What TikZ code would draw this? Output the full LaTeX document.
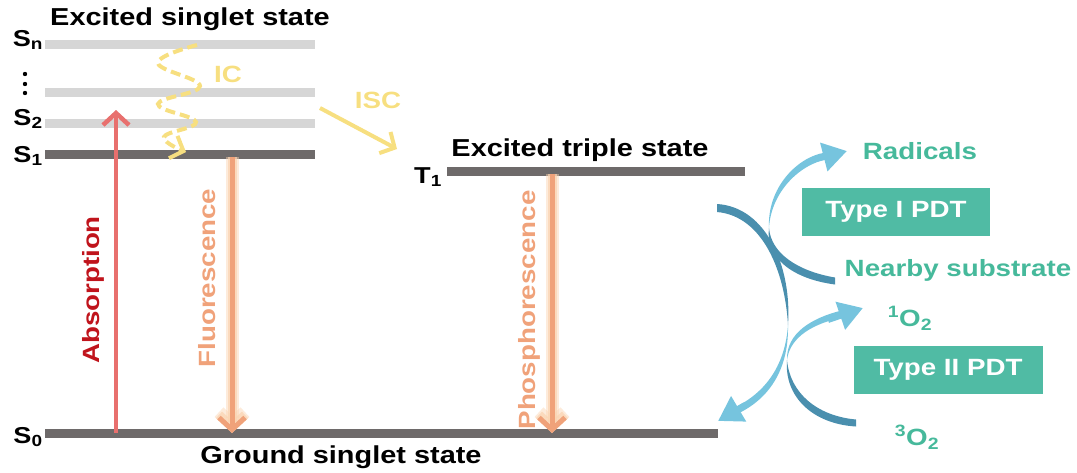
\documentclass[tikz,border=0pt]{standalone}
\usepackage{fontspec}
\setmainfont{Liberation Sans}[FakeStretch=1.18]
\usetikzlibrary{arrows.meta, positioning}

\definecolor{lightlvl}{HTML}{D6D6D6}
\definecolor{darklvl}{HTML}{6E6A6A}
\definecolor{absred}{HTML}{E8706E}
\definecolor{abstext}{HTML}{C0141C}
\definecolor{emitorange}{HTML}{F0A27A}
\definecolor{gloworange}{HTML}{FAD3B0}
\definecolor{icyellow}{HTML}{F7DF80}
\definecolor{pdtteal}{HTML}{46B99B}
\definecolor{boxteal}{HTML}{50BBA4}
\definecolor{arclight}{HTML}{76C4DE}
\definecolor{arcdark}{HTML}{4A8FAE}

\tikzset{
	level/.style = {line width=9pt, darklvl},
	sublevel/.style = {line width=9pt, lightlvl},
	statelbl/.style = {font=\fontsize{24.5}{27}\selectfont\bfseries, inner sep=0pt},
	lvllbl/.style = {font=\fontsize{23}{25}\selectfont\bfseries, inner sep=0pt},
	vlbl/.style = {font=\fontsize{23.5}{25}\selectfont\bfseries, rotate=90, inner sep=0pt},
	pdtlbl/.style = {font=\fontsize{23.5}{25}\selectfont\bfseries, text=pdtteal, inner sep=0pt},
	pdtbox/.style = {fill=boxteal, text=white, font=\fontsize{23.5}{25}\selectfont\bfseries, minimum height=48pt, inner sep=0pt},
	emit/.style = {line width=5pt, emitorange, -{Straight Barb[length=12pt, width=26pt, line width=5pt]}},
	glow/.style = {line width=13pt, gloworange, opacity=0.45, -{Straight Barb[length=12pt, width=26pt, line width=13pt]}},
	glowin/.style = {line width=9pt, gloworange, opacity=0.7, -{Straight Barb[length=12pt, width=26pt, line width=9pt]}},
	trans/.style = {line width=4pt, icyellow, -{Straight Barb[length=11pt, width=24pt, line width=4pt]}},
	arctip/.style = {line width=6pt, arclight, -{Triangle[length=24pt, width=28pt]}}
}

\begin{document}
\begin{tikzpicture}[x=1pt, y=-1pt]
	\useasboundingbox (0,0) rectangle (1077,472);

	% energy levels
	\draw[sublevel] (45,44) coordinate (Sn-w) -- (315,44) coordinate (Sn-e);
	\draw[sublevel] (45,92) coordinate (Sm-w) -- (315,92) coordinate (Sm-e);
	\draw[sublevel] (45,123) coordinate (S2-w) -- (315,123) coordinate (S2-e);
	\draw[level] (45,154) coordinate (S1-w) -- (315,154) coordinate (S1-e);
	\draw[level] (447,171) coordinate (T1-w) -- (745,171) coordinate (T1-e);
	\draw[level] (45,433) coordinate (S0-w) -- (718,433) coordinate (S0-e);

	% level names
	\node[lvllbl] (lblSn) at (28,40) {S\textsubscript{n}};
	\foreach \y in {74,84,93}
		\fill (25,\y) circle (2.2pt);
	\node[lvllbl] (lblS2) at (28,119) {S\textsubscript{2}};
	\node[lvllbl] (lblS1) at (28,156) {S\textsubscript{1}};
	\node[lvllbl] (lblT1) at (428,177) {T\textsubscript{1}};
	\node[lvllbl] (lblS0) at (28,437) {S\textsubscript{0}};

	\node[statelbl] (singlet) at (190,19) {Excited singlet state};
	\node[statelbl] (triple) at (580,150) {Excited triple state};
	\node[statelbl] (ground) at (341,457) {Ground singlet state};

	% absorption
	\coordinate (absfrom) at (116,433);
	\coordinate (absto) at (116,110);
	\draw[line width=4.5pt, absred, -{Straight Barb[length=12pt, width=26pt, line width=4.5pt]}] (absfrom) -- (absto);
	\node[vlbl, text=abstext] (abslbl) at (93,290) {Absorption};

	% fluorescence and phosphorescence, with a soft glow
	\coordinate (flfrom) at (232,157);
	\coordinate (flto) at (232,433);
	\coordinate (phfrom) at (552,174);
	\coordinate (phto) at (552,433);
	\draw[glow] (flfrom) -- (flto);
	\draw[glow] (phfrom) -- (phto);
	\draw[glowin] (flfrom) -- (flto);
	\draw[glowin] (phfrom) -- (phto);
	\draw[emit] (flfrom) -- (flto);
	\draw[emit] (phfrom) -- (phto);
	\node[vlbl, text=emitorange] (fllbl) at (207,278) {Fluorescence};
	\node[vlbl, text=emitorange] (phlbl) at (529,310) {Phosphorescence};

	% internal conversion
	\draw[trans, dashed, dash pattern=on 10pt off 5pt] plot[smooth, tension=0.7] coordinates
		{(197,45) (158,63) (200,86) (158,104) (196,122) (164,137) (186,152)};
	\node[pdtlbl, text=icyellow] (iclbl) at (228,74) {IC};

	% intersystem crossing
	\coordinate (iscfrom) at (320,108);
	\coordinate (iscto) at (397,149);
	\draw[trans] (iscfrom) -- (iscto);
	\node[pdtlbl, text=icyellow] (isclbl) at (378,100) {ISC};

	% photodynamic side
	\node[pdtlbl] (radicals) at (920,151) {Radicals};
	\node[pdtbox, minimum width=188pt] (type1) at (896,212) {Type I PDT};
	\node[pdtlbl] (substrate) at (958,270) {Nearby substrate};
	\node[pdtlbl] (singletO) at (910,318) {\textsuperscript{1}O\textsubscript{2}};
	\node[pdtbox, minimum width=189pt] (type2) at (948,370) {Type II PDT};
	\node[pdtlbl] (tripletO) at (917,437) {\textsuperscript{3}O\textsubscript{2}};

	% curved ribbons, thin where they twist
	\coordinate (arcmid) at (788,325);
	\coordinate (arcend) at (718,421);
	\fill[arcdark] (717,204) .. controls (767,207) and (792,268) .. (arcmid)
		.. controls (785,272) and (763,216) .. (717,212) -- cycle;
	\fill[arclight] (arcmid) .. controls (789,372) and (767,401) .. (734.4,415.2)
		-- (731.6,408.8) .. controls (763,395) and (785,368) .. (arcmid) -- cycle;
	\draw[arctip] (745,405) -- (arcend);

	\coordinate (radmid) at (769,228);
	\coordinate (radend) at (847,151);
	\fill[arcdark] (835,284.5) .. controls (793,279) and (765,258) .. (radmid)
		.. controls (771,253) and (797,271) .. (835,277.5) -- cycle;
	\fill[arclight] (radmid) .. controls (767,188) and (797,157) .. (825,152.6)
		-- (827,159.4) .. controls (800,164) and (771,192) .. (radmid) -- cycle;
	\draw[arctip] (812,160) -- (radend);

	\coordinate (oxmid) at (787,360);
	\coordinate (oxend) at (863,308);
	\fill[arcdark] (856,426.5) .. controls (813,424) and (784,397) .. (oxmid)
		.. controls (790,393) and (817,416) .. (856,419.5) -- cycle;
	\fill[arclight] (oxmid) .. controls (786,333) and (812,318) .. (840.8,310.7)
		-- (843.2,317.3) .. controls (815,323) and (790,336) .. (oxmid) -- cycle;
	\draw[arctip] (828,320) -- (oxend);
\end{tikzpicture}
\end{document}
